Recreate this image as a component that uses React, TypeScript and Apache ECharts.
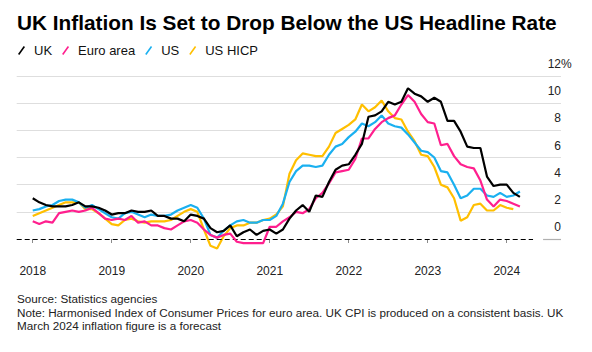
import React, { useEffect, useRef } from "react";
import * as echarts from "echarts";

// Monthly year-on-year inflation, %, starting January 2018
const startYear = 2018;
const ukValues = [
  3.0, 2.7, 2.5, 2.4, 2.4, 2.4, 2.5, 2.7, 2.4, 2.4, 2.3, 2.1,
  1.8, 1.9, 1.9, 2.1, 2.0, 2.0, 2.1, 1.7, 1.7, 1.5, 1.5, 1.3,
  1.8, 1.7, 1.5, 0.8, 0.5, 0.6, 1.0, 0.2, 0.5, 0.7, 0.3, 0.6,
  0.7, 0.4, 0.7, 1.5, 2.1, 2.5, 2.0, 3.2, 3.1, 4.2, 5.1, 5.4,
  5.5, 6.2, 7.0, 9.0, 9.1, 9.4, 10.1, 9.9, 10.1, 11.1, 10.7, 10.5,
  10.1, 10.4, 10.1, 8.7, 8.7, 7.9, 6.8, 6.7, 6.7, 4.6, 3.9, 4.0,
  4.0, 3.4, 3.1,
];
const euroValues = [
  1.3, 1.1, 1.3, 1.2, 1.9, 2.0, 2.1, 2.0, 2.1, 2.3, 1.9, 1.5,
  1.4, 1.5, 1.4, 1.7, 1.2, 1.3, 1.0, 1.0, 0.8, 0.7, 1.0, 1.3,
  1.4, 1.2, 0.7, 0.3, 0.1, 0.3, 0.4, -0.2, -0.3, -0.3, -0.3, -0.3,
  0.9, 0.9, 1.3, 1.6, 2.0, 1.9, 2.2, 3.0, 3.4, 4.1, 4.9, 5.0,
  5.1, 5.9, 7.4, 7.4, 8.1, 8.6, 8.9, 9.1, 9.9, 10.6, 10.1, 9.2,
  8.6, 8.5, 6.9, 7.0, 6.1, 5.5, 5.3, 5.2, 4.3, 2.9, 2.4, 2.9,
  2.8, 2.6, 2.4,
];
const usValues = [
  2.1, 2.2, 2.4, 2.5, 2.8, 2.9, 2.9, 2.7, 2.3, 2.5, 2.2, 1.9,
  1.6, 1.5, 1.9, 2.0, 1.8, 1.6, 1.8, 1.7, 1.7, 1.8, 2.1, 2.3,
  2.5, 2.3, 1.5, 0.3, 0.1, 0.6, 1.0, 1.3, 1.4, 1.2, 1.2, 1.4,
  1.4, 1.7, 2.6, 4.2, 5.0, 5.4, 5.4, 5.3, 5.4, 6.2, 6.8, 7.0,
  7.5, 7.9, 8.5, 8.3, 8.6, 9.1, 8.5, 8.3, 8.2, 7.7, 7.1, 6.5,
  6.4, 6.0, 5.0, 4.9, 4.0, 3.0, 3.2, 3.7, 3.7, 3.2, 3.1, 3.4,
  3.1, 3.2, 3.5,
];
const usHicpValues = [
  1.7, 1.9, 2.1, 2.3, 2.5, 2.7, 2.7, 2.7, 2.2, 2.2, 1.9, 1.5,
  1.1, 1.0, 1.4, 1.5, 1.3, 1.2, 1.3, 1.3, 1.3, 1.4, 1.7, 2.0,
  2.2, 2.0, 0.7, -0.5, -0.7, 0.2, 0.8, 1.0, 1.0, 1.2, 1.2, 1.4,
  1.5, 1.8, 2.4, 4.8, 5.8, 6.3, 6.2, 6.1, 6.1, 6.8, 7.8, 8.1,
  8.4, 8.8, 9.9, 9.4, 9.7, 10.2, 9.4, 8.9, 8.8, 7.9, 7.2, 6.2,
  6.1, 5.3, 4.0, 3.8, 3.0, 1.35, 1.6, 2.5, 2.6, 2.1, 2.1, 2.5,
  2.3, 2.2,
];
const yearTicks = [2018, 2019, 2020, 2021, 2022, 2023, 2024];
const seriesNames = ["UK", "Euro area", "US", "US HICP"];
const seriesColors = ["#000000", "#ff1f8e", "#1ab0f0", "#ffbf00"];
const titleText = "UK Inflation Is Set to Drop Below the US Headline Rate";
const sourceText = "Source: Statistics agencies";
const noteLines = [
  "Note: Harmonised Index of Consumer Prices for euro area. UK CPI is produced on a consistent basis. UK",
  "March 2024 inflation figure is a forecast",
];

const X_MIN = 2017.797;
const X_MAX = 2024.687;
const DASH_END = 2024.333;
const GRAY_START = 2024.46;

const FONT = "'Liberation Sans', Arial, Helvetica, sans-serif";

function toPoints(values: number[]) {
  return values.map((v, i) => [startYear + i / 12, v]);
}

const legendIcon = "path://M0,8.1 L5.7,0 L7,0.9 L1.3,9 Z";

export default function App() {
  const ref = useRef<HTMLDivElement>(null);

  useEffect(() => {
    if (!ref.current) return;
    const chart = echarts.init(ref.current, undefined, { renderer: "svg" });
    const allValues = [ukValues, euroValues, usValues, usHicpValues];
    // draw order: US HICP bottom, UK top
    const order = [3, 2, 1, 0];
    const series: any[] = order.map((idx, k) => {
      const s: any = {
        name: seriesNames[idx],
        type: "line",
        data: toPoints(allValues[idx]),
        showSymbol: false,
        symbol: "none",
        clip: false,
        z: 3 + k,
        lineStyle: { color: seriesColors[idx], width: 2.2 },
        itemStyle: { color: seriesColors[idx] },
      };
      if (idx === 3) {
        s.markLine = {
          silent: true,
          symbol: "none",
          animation: false,
          label: { show: false },
          data: [
            [
              { coord: [X_MIN, 0], lineStyle: { color: "#000", width: 1.2, type: [5, 3] } },
              { coord: [DASH_END, 0] },
            ],
            [
              { coord: [GRAY_START, 0], lineStyle: { color: "#b0b0b0", width: 1.2, type: "solid" } },
              { coord: [X_MAX, 0] },
            ],
          ],
        };
      }
      return s;
    });

    chart.setOption({
      animation: false,
      backgroundColor: "#ffffff",
      textStyle: { fontFamily: FONT },
      title: {
        text: titleText,
        left: 17,
        top: 12,
        padding: 0,
        textStyle: { fontFamily: FONT, fontSize: 20.8, fontWeight: "bold", color: "#000" },
      },
      legend: {
        data: seriesNames.map((n, i) => ({ name: n, icon: legendIcon, itemStyle: { color: seriesColors[i] } })),
        left: 18,
        top: 44,
        padding: 0,
        itemWidth: 7,
        itemHeight: 9,
        itemGap: 10,
        selectedMode: false,
        textStyle: { fontFamily: FONT, fontSize: 13, color: "#111", padding: [0, 0, 0, 4] },
      },
      grid: { left: 16.7, right: 31, top: 76, bottom: 113, containLabel: false },
      xAxis: {
        type: "value",
        min: X_MIN,
        max: X_MAX,
        offset: 14,
        axisLine: { show: false },
        splitLine: { show: false },
        axisTick: {
          show: true,
          customValues: yearTicks,
          length: 4,
          lineStyle: { color: "#8a8a8a", width: 1 },
        },
        axisLabel: {
          customValues: yearTicks,
          formatter: (v: number) => String(v),
          fontFamily: FONT,
          fontSize: 12,
          color: "#222",
          margin: 12,
        },
      },
      yAxis: {
        type: "value",
        position: "right",
        min: 0,
        max: 12,
        interval: 2,
        axisLine: { show: false },
        axisTick: { show: false },
        splitLine: {
          show: true,
          lineStyle: {
            color: ["rgba(0,0,0,0)", "#dedede", "#dedede", "#dedede", "#dedede", "#dedede", "#dedede"],
            width: 1.2,
          },
        },
        axisLabel: {
          inside: true,
          margin: 0,
          align: "right",
          verticalAlign: "bottom",
          lineHeight: 12,
          padding: [0, 0, 6, 0],
          fontFamily: FONT,
          fontSize: 12,
          color: "#222",
          formatter: (v: number) => String(v),
        },
      },
      graphic: [
        {
          type: "text",
          left: 561,
          top: 58,
          style: { text: "%", font: `12px ${FONT}`, fill: "#222" },
        },
        {
          type: "text",
          left: 17,
          top: 292,
          style: { text: sourceText, font: `11.7px ${FONT}`, fill: "#222" },
        },
        {
          type: "text",
          left: 17,
          top: 305.5,
          style: { text: noteLines.join("\n"), font: `11.7px ${FONT}`, fill: "#222", lineHeight: 13.3 },
        },
      ],
      series,
    });
    return () => chart.dispose();
  }, []);

  return (
    <div
      ref={ref}
      style={{ position: "absolute", left: 0, top: 0, width: 592, height: 352, background: "#fff" }}
    />
  );
}
